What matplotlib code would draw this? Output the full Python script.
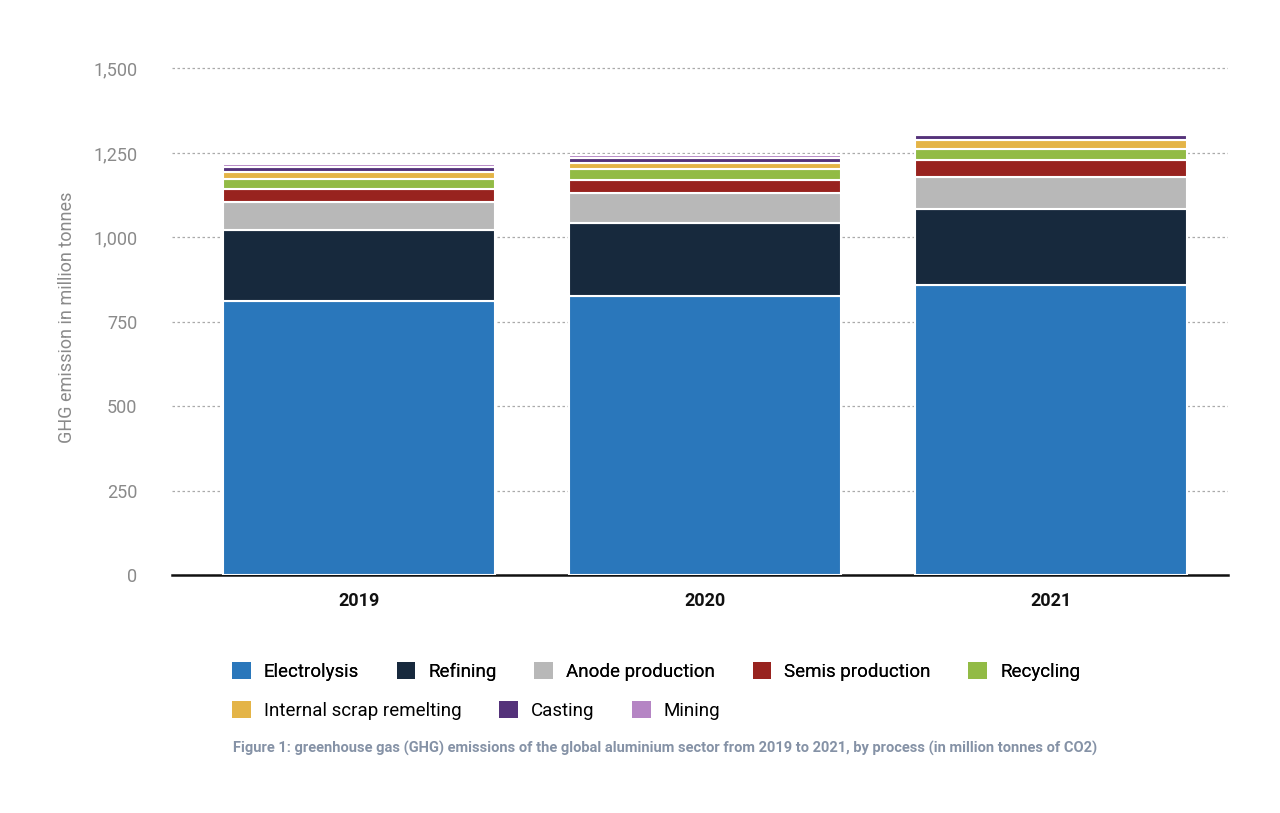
import matplotlib
matplotlib.use("Agg")
import matplotlib.pyplot as plt
from matplotlib.patches import Patch
from matplotlib.ticker import FuncFormatter

plt.rcParams['font.family'] = ['Roboto', 'DejaVu Sans']

years = ["2019", "2020", "2021"]
processes = ["Electrolysis", "Refining", "Anode production", "Semis production",
             "Recycling", "Internal scrap remelting", "Casting", "Mining"]
electrolysis = [811, 825, 858]
refining = [210, 218, 227]
anode = [84, 88, 93]
semis = [39, 40, 50]
recycling = [30, 30, 34]
scrap = [20, 19, 25]
casting = [13, 15, 15]
mining = [10, 9, 8]
series = [electrolysis, refining, anode, semis, recycling, scrap, casting, mining]
colors = ["#2a77bb", "#17293d", "#b8b8b8", "#98231f", "#92bb45", "#e4b447", "#54327a", "#b585c4"]

fig = plt.figure(figsize=(12.8, 8.13), dpi=100)
ax = fig.add_axes([172/1280, 1-575/813, (1228-172)/1280, (575-60)/813])
x = list(range(len(years)))
bottom = [0]*len(years)
for vals, c in zip(series, colors):
    ax.bar(x, vals, bottom=bottom, width=0.786, color=c, edgecolor="white", linewidth=1.5, zorder=3)
    bottom = [b+v for b, v in zip(bottom, vals)]

ax.set_xlim(-0.54, 2.51)
ax.set_ylim(0, 1525)
ax.set_yticks([0, 250, 500, 750, 1000, 1250, 1500])
ax.yaxis.set_major_formatter(FuncFormatter(lambda v, p: f"{int(v):,}"))
ax.set_xticks(x)
ax.set_xticklabels(years, fontsize=13, fontweight="bold", color="#111111")
ax.tick_params(axis="y", length=0, labelsize=13, labelcolor="#8a8a8a", pad=25)
ax.tick_params(axis="x", length=0, pad=12)
ax.grid(axis="y", linestyle=(0, (2, 2)), color="#aaaaaa", linewidth=0.9, zorder=0)
for s in ["top", "right", "left"]:
    ax.spines[s].set_visible(False)
ax.spines["bottom"].set_color("#111111")
ax.spines["bottom"].set_linewidth(1.8)
ax.set_ylabel("GHG emission in million tonnes", fontsize=13, color="#8a8a8a", labelpad=12)

handles = [Patch(facecolor=c, label=l) for c, l in zip(colors, processes)]
row1 = fig.legend(handles[:5], processes[:5], loc="upper left", bbox_to_anchor=(215/1280, 1-645/813),
                  ncol=5, frameon=False, fontsize=13.5, handlelength=1.0, handleheight=1.0,
                  columnspacing=2.0, handletextpad=0.7)
fig.add_artist(row1)
fig.legend(handles[5:], processes[5:], loc="upper left", bbox_to_anchor=(215/1280, 1-684/813),
           ncol=3, frameon=False, fontsize=13.5, handlelength=1.0, handleheight=1.0,
           columnspacing=2.0, handletextpad=0.7)

fig.text(233/1280, 1-748/813,
         "Figure 1: greenhouse gas (GHG) emissions of the global aluminium sector from 2019 to 2021, by process (in million tonnes of CO2)",
         fontsize=10.5, fontweight="bold", color="#8592a6", va="center")

fig.savefig("out.png", dpi=100)
